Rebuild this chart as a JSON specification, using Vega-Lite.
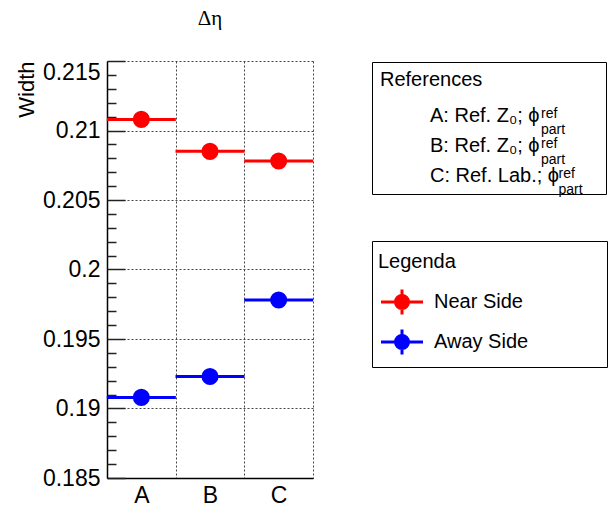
{
  "$schema": "https://vega.github.io/schema/vega-lite/v6.json",
  "width": 206,
  "height": 417,
  "autosize": {"type": "none"},
  "padding": {"left": 107, "top": 61, "right": 301, "bottom": 28},
  "background": "white",
  "config": {
    "font": "Liberation Sans",
    "view": {"stroke": null}
  },
  "title": {
    "text": "Δη",
    "font": "Liberation Serif",
    "fontSize": 21,
    "fontWeight": "normal",
    "color": "black",
    "anchor": "middle",
    "frame": "group",
    "baseline": "alphabetic",
    "offset": 14
  },
  "data": {
    "values": [
      {"cat": "A", "side": "Near Side", "width": 0.2108, "ref": "A: Ref. Z₀; ϕ"},
      {"cat": "B", "side": "Near Side", "width": 0.2085, "ref": "B: Ref. Z₀; ϕ"},
      {"cat": "C", "side": "Near Side", "width": 0.2078, "ref": "C: Ref. Lab.; ϕ"},
      {"cat": "A", "side": "Away Side", "width": 0.1908, "ref": "A: Ref. Z₀; ϕ"},
      {"cat": "B", "side": "Away Side", "width": 0.1923, "ref": "B: Ref. Z₀; ϕ"},
      {"cat": "C", "side": "Away Side", "width": 0.1978, "ref": "C: Ref. Lab.; ϕ"}
    ]
  },
  "encoding": {
    "x": {
      "field": "cat",
      "type": "nominal",
      "scale": {"paddingInner": 0, "paddingOuter": 0},
      "axis": {
        "title": null,
        "orient": "bottom",
        "labelAngle": 0,
        "labelFont": "Liberation Sans",
        "labelFontSize": 23,
        "labelColor": "black",
        "labelPadding": 6,
        "ticks": false,
        "domainColor": "black",
        "domainWidth": 1.5,
        "grid": true,
        "tickBand": "extent",
        "gridDash": [2, 2],
        "gridColor": "#444444",
        "gridWidth": 1,
        "gridOpacity": 1
      }
    }
  },
  "layer": [
    {
      "mark": {"type": "tick", "orient": "horizontal", "thickness": 3, "size": 69, "opacity": 1},
      "encoding": {
        "y": {
          "field": "width",
          "type": "quantitative",
          "scale": {"domain": [0.185, 0.215], "nice": false, "zero": false},
          "axis": {
            "orient": "left",
            "title": "Width",
            "titleFont": "Liberation Sans",
            "titleFontSize": 22,
            "titleFontWeight": "normal",
            "titleColor": "black",
            "titleAngle": -90,
            "titleAlign": "right",
            "titleBaseline": "alphabetic",
            "titleX": -74,
            "titleY": 0,
            "values": [0.185, 0.19, 0.195, 0.2, 0.205, 0.21, 0.215],
            "format": ".3~f",
            "labelFont": "Liberation Sans",
            "labelFontSize": 23,
            "labelColor": "black",
            "labelPadding": 7,
            "labelFlush": false,
            "labelBaseline": {"condition": {"test": "datum.value > 0.2149", "value": "top"}, "value": "middle"},
            "ticks": false,
            "domainColor": "black",
            "domainWidth": 1.5,
            "grid": true,
            "gridDash": [2, 2],
            "gridColor": "#444444",
            "gridWidth": 1,
            "gridOpacity": 1
          }
        },
        "fill": {
          "field": "side",
          "type": "nominal",
          "scale": {"domain": ["Near Side", "Away Side"], "range": ["#ff0000", "#0000ff"]},
          "legend": {
            "title": "Legenda\u2003\u2003\u2003\u2003\u2003\u2003\u2003\u2005\u200b",
            "orient": "none",
            "legendX": 265,
            "legendY": 180,
            "strokeColor": "black",
            "padding": 6,
            "titleFont": "Liberation Sans",
            "titleFontSize": 20,
            "titleFontWeight": "normal",
            "titleColor": "black",
            "titleLimit": 600,
            "titlePadding": 21,
            "titleBaseline": "line-top",
            "titleLineHeight": 30,
            "labelFont": "Liberation Sans",
            "labelFontSize": 20,
            "labelColor": "black",
            "labelLimit": 600,
            "labelOffset": 18,
            "rowPadding": 2,
            "symbolOffset": 10,
            "symbolType": "M-1.68,0L1.68,0M0,-1L0,1M0.52,0A0.52,0.52,0,1,1,-0.52,0A0.52,0.52,0,1,1,0.52,0Z",
            "symbolSize": 625,
            "symbolStrokeWidth": 3,
            "encode": {
              "symbols": {
                "shape": {"value": "M-1.68,0L1.68,0M0,-1L0,1M0.52,0A0.52,0.52,0,1,1,-0.52,0A0.52,0.52,0,1,1,0.52,0Z"},
                "size": {"value": 625},
                "opacity": {"value": 1},
                "strokeWidth": {"value": 3}
              }
            }
          }
        }
      }
    },
    {
      "mark": {"type": "circle", "size": 227, "opacity": 1},
      "encoding": {
        "y": {
          "field": "width",
          "type": "quantitative",
          "scale": {"domain": [0.185, 0.215], "nice": false, "zero": false},
          "axis": {
            "orient": "left",
            "title": null,
            "labels": false,
            "domain": false,
            "grid": false,
            "ticks": true,
            "values": [0.185, 0.19, 0.195, 0.2, 0.205, 0.21, 0.215],
            "tickSize": -18,
            "tickColor": "#222222",
            "tickWidth": 1.5
          }
        },
        "fill": {
          "field": "side",
          "type": "nominal",
          "scale": {"domain": ["Near Side", "Away Side"], "range": ["#ff0000", "#0000ff"]},
          "legend": {
            "title": "Legenda\u2003\u2003\u2003\u2003\u2003\u2003\u2003\u2005\u200b",
            "orient": "none",
            "legendX": 265,
            "legendY": 180,
            "strokeColor": "black",
            "padding": 6,
            "titleFont": "Liberation Sans",
            "titleFontSize": 20,
            "titleFontWeight": "normal",
            "titleColor": "black",
            "titleLimit": 600,
            "titlePadding": 21,
            "titleBaseline": "line-top",
            "titleLineHeight": 30,
            "labelFont": "Liberation Sans",
            "labelFontSize": 20,
            "labelColor": "black",
            "labelLimit": 600,
            "labelOffset": 18,
            "rowPadding": 2,
            "symbolOffset": 10,
            "symbolType": "M-1.68,0L1.68,0M0,-1L0,1M0.52,0A0.52,0.52,0,1,1,-0.52,0A0.52,0.52,0,1,1,0.52,0Z",
            "symbolSize": 625,
            "symbolStrokeWidth": 3,
            "encode": {
              "symbols": {
                "shape": {"value": "M-1.68,0L1.68,0M0,-1L0,1M0.52,0A0.52,0.52,0,1,1,-0.52,0A0.52,0.52,0,1,1,0.52,0Z"},
                "size": {"value": 625},
                "opacity": {"value": 1},
                "strokeWidth": {"value": 3}
              }
            }
          }
        },
        "stroke": {
          "field": "side",
          "type": "nominal",
          "scale": {"domain": ["Near Side", "Away Side"], "range": ["#ff0000", "#0000ff"]},
          "legend": {
            "title": "Legenda\u2003\u2003\u2003\u2003\u2003\u2003\u2003\u2005\u200b",
            "orient": "none",
            "legendX": 265,
            "legendY": 180,
            "strokeColor": "black",
            "padding": 6,
            "titleFont": "Liberation Sans",
            "titleFontSize": 20,
            "titleFontWeight": "normal",
            "titleColor": "black",
            "titleLimit": 600,
            "titlePadding": 21,
            "titleBaseline": "line-top",
            "titleLineHeight": 30,
            "labelFont": "Liberation Sans",
            "labelFontSize": 20,
            "labelColor": "black",
            "labelLimit": 600,
            "labelOffset": 18,
            "rowPadding": 2,
            "symbolOffset": 10,
            "symbolType": "M-1.68,0L1.68,0M0,-1L0,1M0.52,0A0.52,0.52,0,1,1,-0.52,0A0.52,0.52,0,1,1,0.52,0Z",
            "symbolSize": 625,
            "symbolStrokeWidth": 3,
            "encode": {
              "symbols": {
                "shape": {"value": "M-1.68,0L1.68,0M0,-1L0,1M0.52,0A0.52,0.52,0,1,1,-0.52,0A0.52,0.52,0,1,1,0.52,0Z"},
                "size": {"value": 625},
                "opacity": {"value": 1},
                "strokeWidth": {"value": 3}
              }
            }
          }
        }
      }
    },
    {
      "mark": {"type": "point", "filled": true, "opacity": 0},
      "encoding": {
        "y": {
          "field": "width",
          "type": "quantitative",
          "scale": {"domain": [0.185, 0.215], "nice": false, "zero": false},
          "axis": {
            "orient": "left",
            "title": null,
            "labels": false,
            "domain": false,
            "grid": false,
            "ticks": true,
            "values": [0.186, 0.187, 0.188, 0.189, 0.191, 0.192, 0.193, 0.194, 0.196, 0.197, 0.198, 0.199, 0.201, 0.202, 0.203, 0.204, 0.206, 0.207, 0.208, 0.209, 0.211, 0.212, 0.213, 0.214],
            "tickSize": -9,
            "tickColor": "#222222",
            "tickWidth": 1.5
          }
        },
        "shape": {
          "field": "ref",
          "type": "nominal",
          "legend": {
            "title": "References\u2003\u2003\u2003\u2003\u2003\u2002\u2005\u200b",
            "orient": "none",
            "legendX": 265,
            "legendY": 1,
            "strokeColor": "black",
            "padding": 8,
            "titleFont": "Liberation Sans",
            "titleFontSize": 20,
            "titleFontWeight": "normal",
            "titleColor": "black",
            "titleLimit": 600,
            "titlePadding": 16,
            "labelFont": "Liberation Sans",
            "labelFontSize": 20,
            "labelColor": "black",
            "labelLimit": 600,
            "labelOffset": 30,
            "rowPadding": 10,
            "symbolSize": 100,
            "symbolOpacity": 0
          }
        },
        "color": {
          "field": "cat",
          "type": "nominal",
          "scale": {"range": ["white", "white", "white"]},
          "legend": {
            "title": null,
            "orient": "none",
            "legendX": 265,
            "legendY": 40,
            "padding": 6,
            "labelFont": "Liberation Sans",
            "labelFontSize": 14,
            "labelColor": "black",
            "labelLimit": 600,
            "labelOffset": 149,
            "labelExpr": "datum.label == 'C' ? ['\u200b\u2003\u2005ref', '\u200b\u2003\u2005part'] : ['ref', 'part']",
            "rowPadding": -6,
            "symbolSize": 100,
            "symbolOpacity": 0,
            "encode": {"labels": {"lineHeight": {"value": 18}}}
          }
        }
      }
    }
  ],
  "resolve": {"axis": {"y": "independent"}}
}
